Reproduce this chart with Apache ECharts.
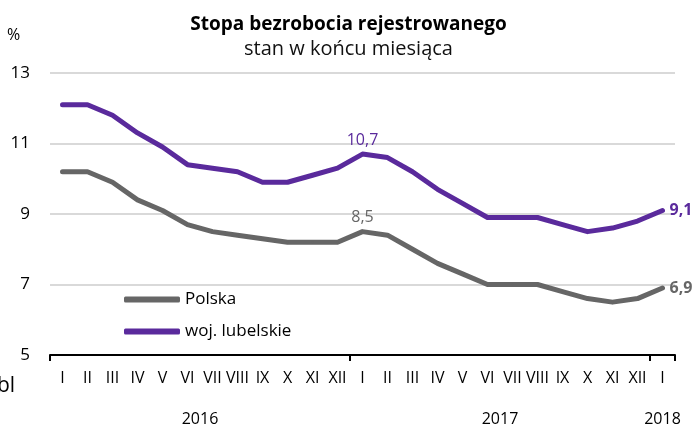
<!DOCTYPE html>
<html>
<head>
<meta charset="utf-8">
<script src="https://cdn.jsdelivr.net/npm/echarts@6/dist/echarts.min.js"></script>
<style>
  html, body { margin: 0; padding: 0; background: #fff; }
  #chart { width: 697px; height: 427px; }
</style>
</head>
<body>
<div id="chart"></div>
<script>
// miesiące I.2016 - I.2018
const months = ['I', 'II', 'III', 'IV', 'V', 'VI', 'VII', 'VIII', 'IX', 'X', 'XI', 'XII',
  'I', 'II', 'III', 'IV', 'V', 'VI', 'VII', 'VIII', 'IX', 'X', 'XI', 'XII', 'I']
const polska = [10.2, 10.2, 9.9, 9.4, 9.1, 8.7, 8.5, 8.4, 8.3, 8.2, 8.2, 8.2,
  8.5, 8.4, 8.0, 7.6, 7.3, 7.0, 7.0, 7.0, 6.8, 6.6, 6.5, 6.6, 6.9]
const lubelskie = [12.1, 12.1, 11.8, 11.3, 10.9, 10.4, 10.3, 10.2, 9.9, 9.9, 10.1, 10.3,
  10.7, 10.6, 10.2, 9.7, 9.3, 8.9, 8.9, 8.9, 8.7, 8.5, 8.6, 8.8, 9.1]
const years = ['2016', '2017', '2018']
const yearPos = [6, 18, 24.5]
const yTicks = [5, 7, 9, 11, 13]

const FONT = 'Open Sans'
const GRAY = '#666666'
const PURPLE = '#5a2a9c'

let fmt = v => String(v).replace('.', ',')

function withLabels (arr, color) {
  return arr.map((v, i) => {
    if (i === 12) {
      return { value: v, label: { show: true, position: 'top', distance: 5, color, fontSize: 16, fontFamily: FONT, formatter: p => fmt(p.value) } }
    }
    if (i === arr.length - 1) {
      return { value: v, label: { show: true, position: 'right', distance: 6, color, fontSize: 16, fontWeight: 'bold', fontFamily: FONT, formatter: p => fmt(p.value) } }
    }
    return v
  })
}

let myChart = echarts.init(document.getElementById('chart'), null, { renderer: 'canvas' })
myChart.setOption({
  animation: false,
  title: {
    text: 'Stopa bezrobocia rejestrowanego',
    subtext: 'stan w końcu miesiąca',
    left: 'center',
    top: 10,
    itemGap: 5,
    textStyle: { fontFamily: FONT, fontSize: 19, fontWeight: 'bold', color: '#000' },
    subtextStyle: { fontFamily: FONT, fontSize: 20, color: '#111' }
  },
  graphic: [
    { type: 'text', left: 7, top: 27, style: { text: '%', fontFamily: FONT, fontSize: 16, fill: '#000' } },
    { type: 'text', left: -3, top: 376, style: { text: 'bl', fontFamily: FONT, fontSize: 21, fill: '#000' } }
  ],
  legend: {
    orient: 'vertical',
    left: 124,
    top: 291,
    padding: 0,
    itemWidth: 56,
    itemHeight: 6,
    itemGap: 15,
    icon: 'roundRect',
    textStyle: { fontFamily: FONT, fontSize: 17, color: '#000' },
    data: ['Polska', 'woj. lubelskie']
  },
  grid: { left: 50, right: 22, top: 73, bottom: 70 },
  xAxis: [
    {
      type: 'category',
      data: months,
      boundaryGap: true,
      axisLine: { lineStyle: { color: '#000', width: 2 } },
      axisTick: { show: true, length: 6, lineStyle: { color: '#000', width: 2 }, interval: (i) => i === 0 || i === 12 || i === 24 },
      axisLabel: { interval: 0, hideOverlap: false, margin: 15, fontFamily: FONT, fontSize: 16, color: '#000' }
    },
    {
      type: 'value',
      position: 'bottom',
      min: 0,
      max: 25,
      offset: 48,
      axisLine: { show: false },
      axisTick: { show: false },
      splitLine: { show: false },
      axisLabel: {
        customValues: yearPos,
        fontFamily: FONT,
        fontSize: 16,
        color: '#000',
        formatter: v => years[yearPos.indexOf(v)]
      }
    }
  ],
  yAxis: {
    type: 'value',
    min: 5,
    max: 13,
    interval: 2,
    axisLine: { show: false },
    axisTick: { show: false },
    splitLine: { lineStyle: { color: '#d9d9d9', width: 2 } },
    axisLabel: { margin: 20, fontFamily: FONT, fontSize: 17, color: '#000', formatter: v => yTicks.includes(v) ? String(v) : '' }
  },
  series: [
    {
      name: 'Polska',
      type: 'line',
      data: withLabels(polska, GRAY),
      color: GRAY,
      symbol: 'circle',
      symbolSize: 2,
      showSymbol: true,
      lineStyle: { width: 5, cap: 'round', join: 'round' }
    },
    {
      name: 'woj. lubelskie',
      type: 'line',
      data: withLabels(lubelskie, PURPLE),
      color: PURPLE,
      symbol: 'circle',
      symbolSize: 2,
      showSymbol: true,
      lineStyle: { width: 5, cap: 'round', join: 'round' }
    }
  ]
})
</script>
</body>
</html>
